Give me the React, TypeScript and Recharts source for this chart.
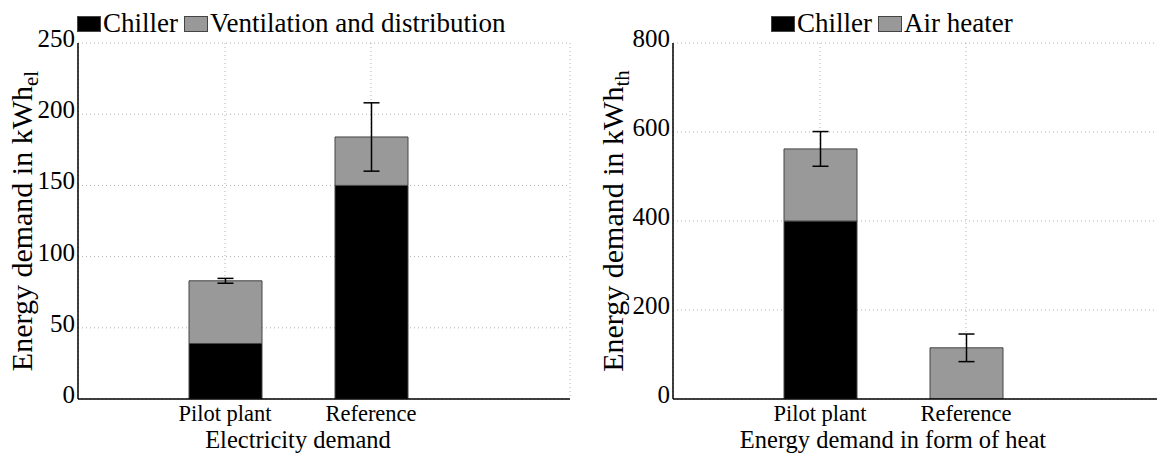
import React from 'react';
import { ComposedChart, Bar, XAxis, YAxis, CartesianGrid, ErrorBar, Legend } from 'recharts';

const categories = ['Pilot plant', 'Reference'];
const elecChiller = [39, 150];
const elecVent = [44, 34];
const elecError = [1.7, 24];
const heatChiller = [400, 0];
const heatAir = [162, 115];
const heatError = [39, 31];
const elecTicks = [0, 50, 100, 150, 200, 250];
const heatTicks = [0, 200, 400, 600, 800];

const elecData = categories.map((c, i) => ({ category: c, a: elecChiller[i], b: elecVent[i], err: elecError[i] }));
const heatData = categories.map((c, i) => ({ category: c, a: heatChiller[i], b: heatAir[i], err: heatError[i] }));

const FONT = "'Liberation Serif', 'Times New Roman', Times, 'DejaVu Serif', serif";
const GRAY = '#999999';
const EDGE = '#444444';

const XTick = (props: any) => {
  const { x, y, payload } = props;
  return (
    <text x={x} y={y + 22} textAnchor="middle" fontSize={22.5} fontFamily={FONT} style={{ fontFamily: FONT }} fill="#000">
      {payload.value}
    </text>
  );
};

const YTick = (props: any) => {
  const { x, y, payload } = props;
  return (
    <text x={x - 3} y={y + 4} textAnchor="end" fontSize={25} fontFamily={FONT} style={{ fontFamily: FONT }} fill="#000">
      {payload.value}
    </text>
  );
};

const makeYLabel = (main: string, sub: string, bx: number) => (props: any) => {
  const vb = props.viewBox || {};
  const cy = vb.y + vb.height / 2;
  const cx = bx;
  return (
    <text
      x={cx}
      y={cy}
      transform={`rotate(-90 ${cx} ${cy})`}
      textAnchor="middle"
      fontSize={30}
      fontFamily={FONT}
      style={{ fontFamily: FONT }}
      fill="#000"
    >
      {main}
      <tspan fontSize={21} dy="0.3em">{sub}</tspan>
    </text>
  );
};

const makeXLabel = (text: string) => (props: any) => {
  const vb = props.viewBox || {};
  const cx = vb.x + 220;
  return (
    <text x={cx} y={vb.y + 49} textAnchor="middle" fontSize={24.5} fontFamily={FONT} style={{ fontFamily: FONT }} fill="#000">
      {text}
    </text>
  );
};

const makeLegend = (left: number) => (props: any) => {
  const payload = [...(props.payload || [])].sort((u: any, v: any) =>
    String(u.dataKey) < String(v.dataKey) ? -1 : 1
  );
  return (
    <div style={{ position: 'relative', height: 0, width: 0 }}>
      <div
        style={{
          position: 'absolute',
          left,
          top: 10,
          whiteSpace: 'nowrap',
          fontFamily: FONT,
          fontSize: 27,
          lineHeight: '27px',
          color: '#000',
        }}
      >
        {payload.map((p: any, i: number) => (
          <span key={i} style={{ marginRight: 6 }}>
            <span
              style={{
                display: 'inline-block',
                width: 24,
                height: 16,
                background: p.color,
                border: `1px solid ${EDGE}`,
                boxSizing: 'border-box',
                marginRight: 2,
              }}
            />
            {p.value}
          </span>
        ))}
      </div>
    </div>
  );
};

type PanelProps = {
  data: any[];
  width: number;
  yWidth: number;
  marginRight: number;
  ticks: number[];
  max: number;
  nameA: string;
  nameB: string;
  yMain: string;
  ySub: string;
  yLabelX: number;
  xLabel: string;
  legendLeft: number;
};

const Panel = (p: PanelProps) => (
  <ComposedChart
    width={p.width}
    height={454}
    data={p.data}
    margin={{ top: 43, right: p.marginRight, left: 0, bottom: 0 }}
    barCategoryGap={0}
  >
    <CartesianGrid stroke="#b0b0b0" strokeDasharray="1 3" />
    <XAxis
      dataKey="category"
      height={55}
      padding={{ left: 74, right: 126 }}
      tickSize={0}
      tickMargin={0}
      tickLine={false}
      axisLine={{ stroke: '#000', strokeWidth: 1.5 }}
      tick={<XTick />}
      label={{ content: makeXLabel(p.xLabel) } as any}
    />
    <XAxis
      xAxisId="top"
      orientation="top"
      dataKey="category"
      height={0}
      tick={false}
      tickLine={false}
      axisLine={{ stroke: '#000', strokeWidth: 1.5 }}
    />
    <YAxis
      width={p.yWidth}
      domain={[0, p.max]}
      ticks={p.ticks}
      type="number"
      allowDataOverflow
      tickSize={0}
      tickMargin={0}
      tickLine={false}
      axisLine={{ stroke: '#000', strokeWidth: 1.5 }}
      tick={<YTick />}
      label={{ content: makeYLabel(p.yMain, p.ySub, p.yLabelX) } as any}
    />
    <YAxis
      yAxisId="right"
      orientation="right"
      width={0}
      domain={[0, p.max]}
      tick={false}
      tickLine={false}
      axisLine={{ stroke: '#000', strokeWidth: 1.5 }}
    />
    <Legend
      verticalAlign="top"
      align="left"
      wrapperStyle={{ top: 0, left: 0, width: 0, height: 0 }}
      content={makeLegend(p.legendLeft)}
    />
    <Bar dataKey="a" name={p.nameA} stackId="s" fill="#000000" stroke={EDGE} strokeWidth={1} barSize={73} isAnimationActive={false} />
    <Bar dataKey="b" name={p.nameB} stackId="s" fill={GRAY} stroke={EDGE} strokeWidth={1} barSize={73} isAnimationActive={false}>
      <ErrorBar dataKey="err" width={8} stroke="#000" strokeWidth={1.5} />
    </Bar>
  </ComposedChart>
);

export default function App() {
  return (
    <div
      style={{
        position: 'absolute',
        left: 0,
        top: 0,
        width: 1157,
        height: 454,
        overflow: 'hidden',
        background: '#fff',
      }}
    >
      <div style={{ position: 'absolute', left: 0, top: 0 }}>
        <Panel
          data={elecData}
          width={580}
          yWidth={78}
          marginRight={10}
          ticks={elecTicks}
          max={250}
          nameA="Chiller"
          nameB="Ventilation and distribution"
          yMain="Energy demand in kWh"
          ySub="el"
          yLabelX={32}
          xLabel="Electricity demand"
          legendLeft={77}
        />
      </div>
      <div style={{ position: 'absolute', left: 580, top: 0 }}>
        <Panel
          data={heatData}
          width={595}
          yWidth={93}
          marginRight={10}
          ticks={heatTicks}
          max={800}
          nameA="Chiller"
          nameB="Air heater"
          yMain="Energy demand in kWh"
          ySub="th"
          yLabelX={43}
          xLabel="Energy demand in form of heat"
          legendLeft={191}
        />
      </div>
    </div>
  );
}
